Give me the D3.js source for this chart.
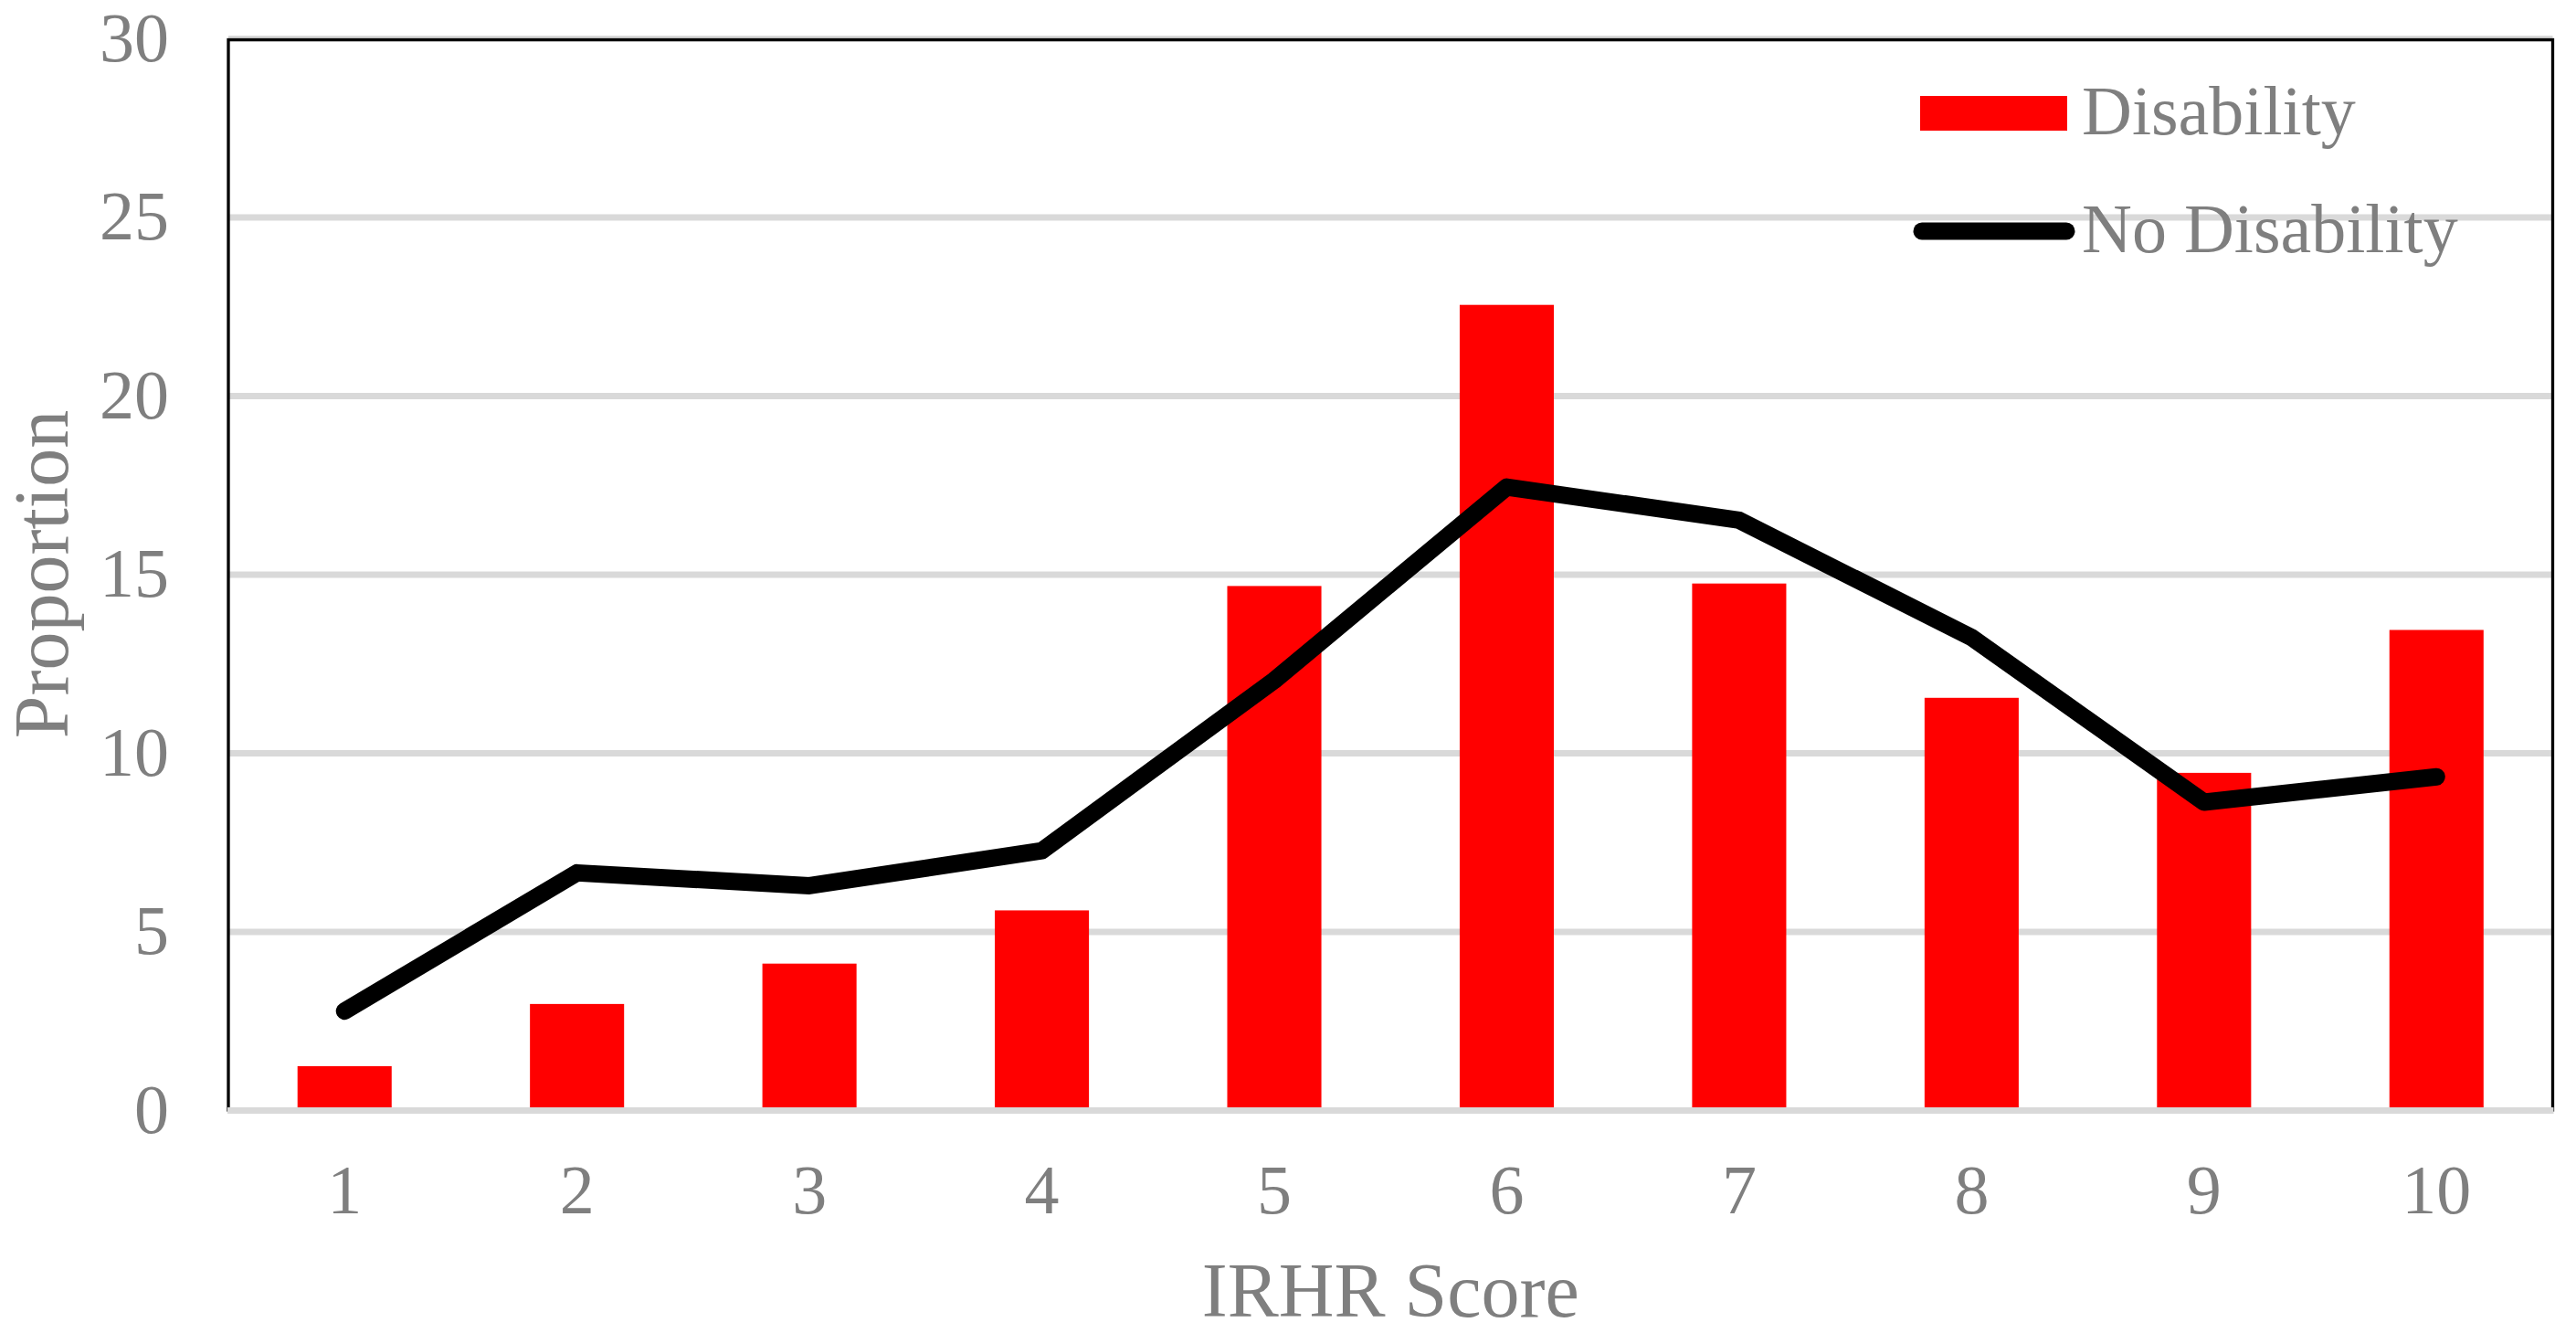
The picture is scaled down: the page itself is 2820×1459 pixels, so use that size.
<!DOCTYPE html>
<html>
<head>
<meta charset="utf-8">
<script src="https://cdn.jsdelivr.net/npm/d3@7"></script>
<style>
  html, body { margin: 0; padding: 0; background: #ffffff; }
  svg { display: block; }
  text { font-family: "Liberation Serif", "Times New Roman", serif; }
</style>
</head>
<body>
<svg id="chart" width="2820" height="1459"></svg>
<script>
// ---- data ----
const categories = ["1", "2", "3", "4", "5", "6", "7", "8", "9", "10"];
const disability = [1.23, 2.97, 4.10, 5.59, 14.67, 22.54, 14.74, 11.54, 9.44, 13.44];
const noDisability = [2.77, 6.64, 6.28, 7.26, 12.03, 17.44, 16.51, 13.23, 8.62, 9.33];
const yTicks = [0, 5, 10, 15, 20, 25, 30];
const seriesNames = ["Disability", "No Disability"];
const xTitle = "IRHR Score";
const yTitle = "Proportion";

(function () {
// ---- layout ----
const svg = d3.select("#chart");
const pLeft = 250, pRight = 2794.5, pTop = 42, pBottom = 1215;
const textColor = "#7f7f7f";
const gridColor = "#d9d9d9";

const x = d3.scaleBand().domain(categories).range([pLeft, pRight])
  .paddingInner(0.595).paddingOuter(0.2975);
const y = d3.scaleLinear().domain([0, 30]).range([pBottom, pTop]);
const cx = d => x(d) + x.bandwidth() / 2;

// gridlines
const grid = svg.append("g").attr("transform", `translate(${pLeft},0)`)
  .call(d3.axisLeft(y).tickValues(yTicks.filter(v => v > 0)).tickSize(-(pRight - pLeft)).tickFormat(""));
grid.select(".domain").remove();
grid.selectAll(".tick line").attr("stroke", gridColor).attr("stroke-width", 7);

// frame
svg.append("rect")
  .attr("x", pLeft).attr("y", 43.5)
  .attr("width", pRight - pLeft).attr("height", pBottom - 43.5)
  .attr("fill", "none").attr("stroke", "#000").attr("stroke-width", 3.3);

// bars
svg.append("g").selectAll("rect").data(categories).join("rect")
  .attr("x", d => x(d))
  .attr("y", (d, i) => y(disability[i]))
  .attr("width", x.bandwidth())
  .attr("height", (d, i) => y(0) - y(disability[i]))
  .attr("fill", "#ff0000");

// x axis line (gray)
svg.append("line")
  .attr("x1", pLeft - 1).attr("x2", pRight + 1)
  .attr("y1", y(0) + 0.5).attr("y2", y(0) + 0.5)
  .attr("stroke", gridColor).attr("stroke-width", 7);

// line series
const line = d3.line().x((d, i) => cx(categories[i])).y(d => y(d));
svg.append("path").datum(noDisability)
  .attr("d", line)
  .attr("fill", "none").attr("stroke", "#000").attr("stroke-width", 19)
  .attr("stroke-linecap", "round").attr("stroke-linejoin", "round");

// y axis labels
const yAxis = svg.append("g").attr("transform", `translate(${pLeft},0)`)
  .call(d3.axisLeft(y).tickValues(yTicks).tickSize(0).tickPadding(65).tickFormat(d3.format("d")));
yAxis.select(".domain").remove();
yAxis.selectAll("text").attr("font-size", 76).attr("fill", textColor)
  .attr("font-family", "Liberation Serif, Times New Roman, serif")
  .attr("dy", null)
  .attr("transform", "translate(0,24)");

// x axis labels
const xAxis = svg.append("g").attr("transform", `translate(0,${pBottom})`)
  .call(d3.axisBottom(x).tickSize(0).tickPadding(0));
xAxis.select(".domain").remove();
xAxis.selectAll("text").attr("font-size", 76).attr("fill", textColor)
  .attr("font-family", "Liberation Serif, Times New Roman, serif")
  .attr("dy", null).attr("y", 113);

// axis titles
svg.append("text")
  .attr("transform", `translate(74,${(pTop + pBottom) / 2}) rotate(-90)`)
  .attr("text-anchor", "middle").attr("font-size", 84).attr("fill", textColor)
  .text(yTitle);
svg.append("text")
  .attr("x", (pLeft + pRight) / 2).attr("y", 1441)
  .attr("text-anchor", "middle").attr("font-size", 84).attr("fill", textColor)
  .text(xTitle);

// legend
const lg = svg.append("g");
lg.append("rect").attr("x", 2102).attr("y", 105).attr("width", 161).attr("height", 38).attr("fill", "#ff0000");
lg.append("text").attr("x", 2279).attr("y", 147).attr("font-size", 76).attr("fill", textColor).text(seriesNames[0]);
lg.append("line").attr("x1", 2104).attr("x2", 2262).attr("y1", 253).attr("y2", 253)
  .attr("stroke", "#000").attr("stroke-width", 19).attr("stroke-linecap", "round");
lg.append("text").attr("x", 2279).attr("y", 276).attr("font-size", 76).attr("fill", textColor).text(seriesNames[1]);
})();
</script>
</body>
</html>
